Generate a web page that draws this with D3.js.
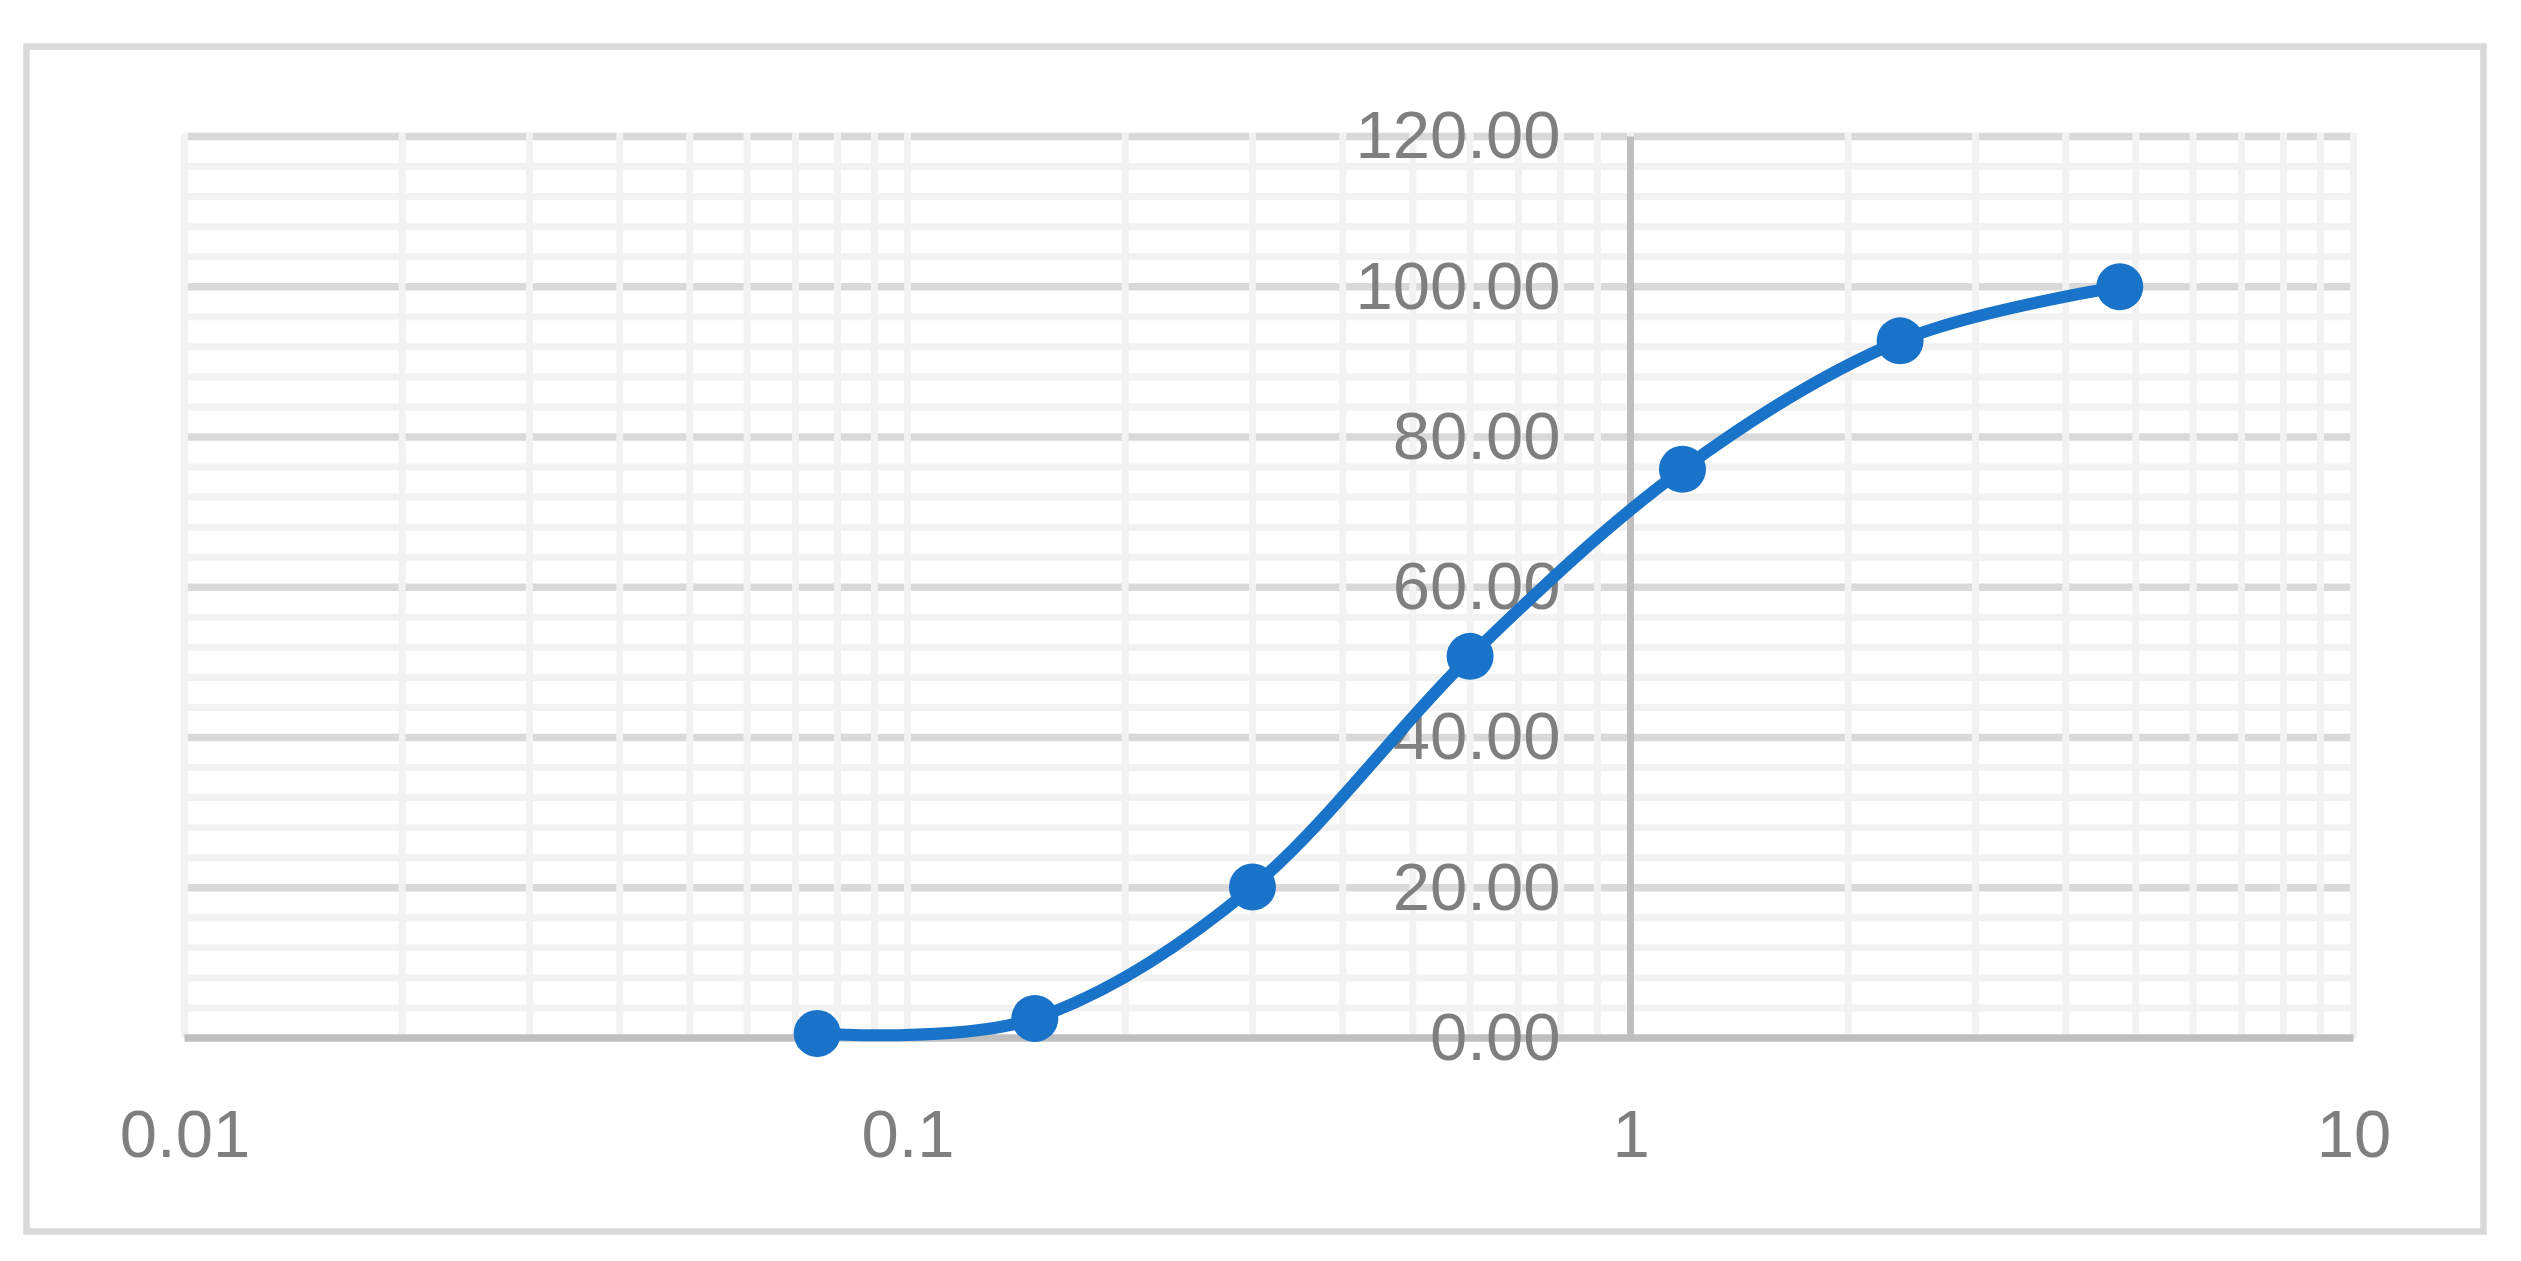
<!DOCTYPE html>
<html>
<head>
<meta charset="utf-8">
<script src="https://cdn.jsdelivr.net/npm/d3@7"></script>
<style>
  html, body { margin: 0; padding: 0; background: #fff; }
  svg { display: block; }
</style>
</head>
<body>
<div id="chart"></div>
<script>
// sieve size (mm) and cumulative percent passing
const sizes = [0.075, 0.15, 0.3, 0.6, 1.18, 2.36, 4.75];
const passing = [0.6, 2.6, 20.1, 50.8, 75.7, 92.8, 100];

const xTicks = [0.01, 0.1, 1, 10];
const yTicks = [0, 20, 40, 60, 80, 100, 120];
const yMinorStep = 4;

document.addEventListener('DOMContentLoaded', function () {
    const width = 2521;
    const height = 1261;

    const left = 184.5, right = 2353.5, top = 136.5, bottom = 1038;

    const svg = d3.select("#chart")
        .append("svg")
        .attr("width", width)
        .attr("height", height);

    const x = d3.scaleLog().domain([0.01, 10]).range([left, right]);
    const y = d3.scaleLinear().domain([0, 120]).range([bottom, top]);

    // chart frame
    svg.append("rect")
        .attr("x", 26.5).attr("y", 46.5)
        .attr("width", 2457).attr("height", 1185)
        .attr("fill", "#fff")
        .attr("stroke", "#d9d9d9")
        .attr("stroke-width", 6.5);

    // horizontal minor gridlines
    const yMinor = d3.range(0, 120 + 0.001, yMinorStep).filter(v => v % 20 !== 0);
    svg.append("g").selectAll("line")
        .data(yMinor).join("line")
        .attr("x1", left).attr("x2", right)
        .attr("y1", d => y(d)).attr("y2", d => y(d))
        .attr("stroke", "#f2f2f2").attr("stroke-width", 7);

    // horizontal major gridlines
    svg.append("g").selectAll("line")
        .data(yTicks.filter(v => v !== 0)).join("line")
        .attr("x1", left).attr("x2", right)
        .attr("y1", d => y(d)).attr("y2", d => y(d))
        .attr("stroke", "#d9d9d9").attr("stroke-width", 7.5);

    // vertical minor gridlines (log scale: 1..9 per decade)
    svg.append("g").selectAll("line")
        .data(x.ticks()).join("line")
        .attr("x1", d => x(d)).attr("x2", d => x(d))
        .attr("y1", top - 3.5).attr("y2", bottom)
        .attr("stroke", "#f2f2f2").attr("stroke-width", 7);

    // axis lines
    svg.append("line")
        .attr("x1", left).attr("x2", right)
        .attr("y1", y(0)).attr("y2", y(0))
        .attr("stroke", "#bfbfbf").attr("stroke-width", 7.5);
    svg.append("line")
        .attr("x1", x(1)).attr("x2", x(1))
        .attr("y1", y(0)).attr("y2", y(120))
        .attr("stroke", "#bfbfbf").attr("stroke-width", 7);

    // y labels sit next to the axis crossing at x = 1
    const yAxis = svg.append("g")
        .attr("transform", `translate(${x(1)},0)`)
        .call(d3.axisLeft(y).tickValues(yTicks).tickFormat(d3.format(".2f")).tickSize(0).tickPadding(70));

    // x labels sit below the plot
    const xAxis = svg.append("g")
        .attr("transform", `translate(0,${bottom})`)
        .call(d3.axisBottom(x).tickValues(xTicks).tickFormat(d => String(d)).tickSize(0).tickPadding(71));

    [yAxis, xAxis].forEach(g => {
        g.select(".domain").remove();
        g.selectAll("text")
            .attr("fill", "#7f7f7f")
            .style("font-family", "'Liberation Sans', Arial, sans-serif")
            .style("font-size", "67px");
    });

    const points = sizes.map((s, i) => ({ x: s, y: passing[i] }));

    const line = d3.line()
        .x(d => x(d.x))
        .y(d => y(d.y))
        .curve(d3.curveCardinal.tension(0));

    svg.append("path")
        .datum(points)
        .attr("d", line)
        .attr("fill", "none")
        .attr("stroke", "#1973c8")
        .attr("stroke-width", 12);

    svg.append("g").selectAll("circle")
        .data(points).join("circle")
        .attr("cx", d => x(d.x))
        .attr("cy", d => y(d.y))
        .attr("r", 23.5)
        .attr("fill", "#1973c8");
});
</script>
</body>
</html>
